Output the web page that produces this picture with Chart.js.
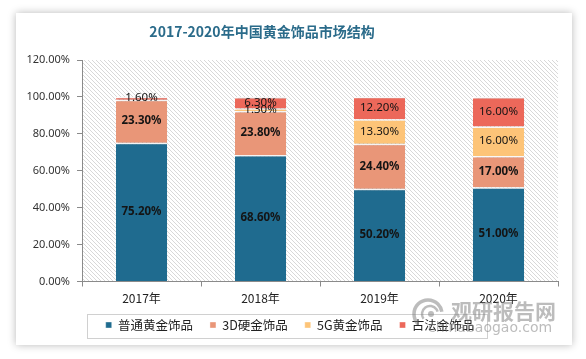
<!DOCTYPE html>
<html><head><meta charset="utf-8">
<script src="https://cdn.jsdelivr.net/npm/chart.js@4"></script>
<style>
html,body{margin:0;padding:0;background:#fff;width:586px;height:359px;overflow:hidden}
#card{position:absolute;left:16px;top:13px;width:556px;height:332px;background:#fff;box-shadow:0 0 8px rgba(0,0,0,0.28)}
#c{position:absolute;left:0;top:0}
</style></head><body>
<div id="card"></div>
<canvas id="c" width="586" height="359"></canvas>
<script>
const titleText = '2017-2020年中国黄金饰品市场结构';
const categories = ['2017年','2018年','2019年','2020年'];
const seriesNames = ['普通黄金饰品','3D硬金饰品','5G黄金饰品','古法金饰品'];
const putong = [75.2, 68.6, 50.2, 51.0];
const hard3d = [23.3, 23.8, 24.4, 17.0];
const g5 = [0, 1.3, 13.3, 16.0];
const gufa = [1.6, 6.3, 12.2, 16.0];
const yTicks = [0,20,40,60,80,100,120];
const colors = ['#1f6b8f','#e99678','#fdc478','#ec685a'];
const boldLabel = [true,true,false,false];

function hatch(){
  const s=4, p=document.createElement('canvas'); p.width=s; p.height=s;
  const g=p.getContext('2d'); g.fillStyle='#fff'; g.fillRect(0,0,s,s);
  g.strokeStyle='#d4d4d4'; g.lineWidth=0.9;
  g.beginPath(); g.moveTo(-1,-1); g.lineTo(s+1,s+1);
  g.moveTo(-1,s-1); g.lineTo(1,s+1); g.moveTo(s-1,-1); g.lineTo(s+1,1); g.stroke();
  return p;
}
const hatchCanvas = hatch();

const bgPlugin = {
  id:'bg',
  afterLayout(chart){
    const lg=chart.legend; if(!lg) return;
    const dy=-8.75, dx=3;
    lg.top+=dy; lg.bottom+=dy; lg.left+=dx; lg.right+=dx;
  },
  beforeDraw(chart){
    const {ctx, chartArea:a} = chart;
    ctx.save(); ctx.fillStyle = ctx.createPattern(hatchCanvas,'repeat');
    ctx.fillRect(a.left, a.top, a.right-a.left, a.bottom-a.top); ctx.restore();
    ctx.save(); ctx.fillStyle='#2a6b8a'; ctx.textAlign='center'; ctx.textBaseline='middle';
    ctx.font='bold 14px "Noto Sans CJK SC", sans-serif';
    ctx.fillText(titleText, 262, 32); ctx.restore();
  },
  beforeDatasetsDraw(chart){
    const ctx=chart.ctx; ctx.save();
    ctx.shadowColor='rgba(0,0,0,0.28)'; ctx.shadowBlur=3; ctx.shadowOffsetX=2; ctx.shadowOffsetY=1;
  },
  afterDatasetsDraw(chart){
    const ctx=chart.ctx; ctx.restore();
    ctx.save(); ctx.textAlign='center'; ctx.textBaseline='middle'; ctx.fillStyle='#141414';
    chart.data.datasets.forEach((ds,i)=>{
      const meta=chart.getDatasetMeta(i);
      ctx.font=(boldLabel[i]?'bold ':'')+'11.5px "Noto Sans", sans-serif';
      meta.data.forEach((el,j)=>{
        const v=ds.data[j]; if(!v) return;
        const y=(el.y+el.base)/2;
        ctx.fillText(v.toFixed(2)+'%', el.x, y);
      });
    });
    ctx.restore();
  },
  afterDraw(chart){
    const ctx=chart.ctx, lg=chart.legend;
    if(lg && lg.legendHitBoxes && lg.legendHitBoxes.length){
      const hb=lg.legendHitBoxes, f=hb[0], l=hb[hb.length-1];
      const cy=f.top+f.height/2;
      ctx.save(); ctx.strokeStyle='#d0d0d0'; ctx.lineWidth=1;
      ctx.strokeRect(Math.round(f.left-19)+0.5, Math.round(cy-11.5)+0.5, Math.round(l.left+l.width-f.left+31), 24);
      ctx.restore();
    }
    // watermark
    ctx.save();
    ctx.globalAlpha=0.5; ctx.strokeStyle='#7a7a7a'; ctx.fillStyle='#7a7a7a';
    ctx.lineWidth=3.5;
    ctx.beginPath(); ctx.arc(428,314,14,Math.PI*0.75,Math.PI*1.95); ctx.stroke();
    ctx.lineWidth=2.5;
    ctx.beginPath(); ctx.arc(430,314,8,Math.PI*0.8,Math.PI*1.9); ctx.stroke();
    ctx.beginPath(); ctx.arc(431,314,3,0,Math.PI*2); ctx.fill();
    ctx.font='bold 21px "Noto Sans CJK SC", sans-serif'; ctx.textBaseline='middle'; ctx.textAlign='left';
    ctx.fillText('观研报告网',451,311);
    ctx.font='14px "DejaVu Sans", sans-serif';
    ctx.fillText('chinabaogao.com',428,328);
    ctx.restore();
  }
};

const datasetsData=[putong,hard3d,g5,gufa];
new Chart(document.getElementById('c'),{
  type:'bar',
  data:{labels:categories,datasets:datasetsData.map((d,i)=>({
    label:seriesNames[i], data:d, backgroundColor:colors[i],
    borderColor:'#ffffff', borderWidth:{top:1.5,left:0,right:0,bottom:0}, borderSkipped:false,
    categoryPercentage:1, barPercentage:0.43
  }))},
  plugins:[bgPlugin],
  options:{
    responsive:false, animation:false, devicePixelRatio:1,
    layout:{padding:{left:16,right:28,top:60,bottom:9}},
    plugins:{
      title:{display:false},
      legend:{position:'bottom',labels:{boxWidth:6,boxHeight:6,padding:17,color:'#222',
        font:{family:'"Noto Sans CJK SC", sans-serif',size:12.5}}},
      tooltip:{enabled:false}
    },
    scales:{
      x:{stacked:true,
        grid:{drawOnChartArea:false,drawTicks:true,tickLength:5,color:'#8a8a8a',offset:true},
        border:{display:true,color:'#8a8a8a'},
        ticks:{color:'#222',padding:4.8,font:{family:'"Noto Sans CJK SC", sans-serif',size:12}}
      },
      y:{stacked:true,min:0,max:120,
        afterBuildTicks(s){s.ticks=yTicks.map(v=>({value:v}));},
        grid:{drawOnChartArea:false,drawTicks:true,tickLength:5,color:'#8a8a8a'},
        border:{display:true,color:'#8a8a8a'},
        ticks:{color:'#333',padding:7,font:{family:'"Noto Sans", sans-serif',size:11},
          callback:v=>v.toFixed(2)+'%'},
        afterFit(s){s.width=66;}
      }
    }
  }
});
</script></body></html>
